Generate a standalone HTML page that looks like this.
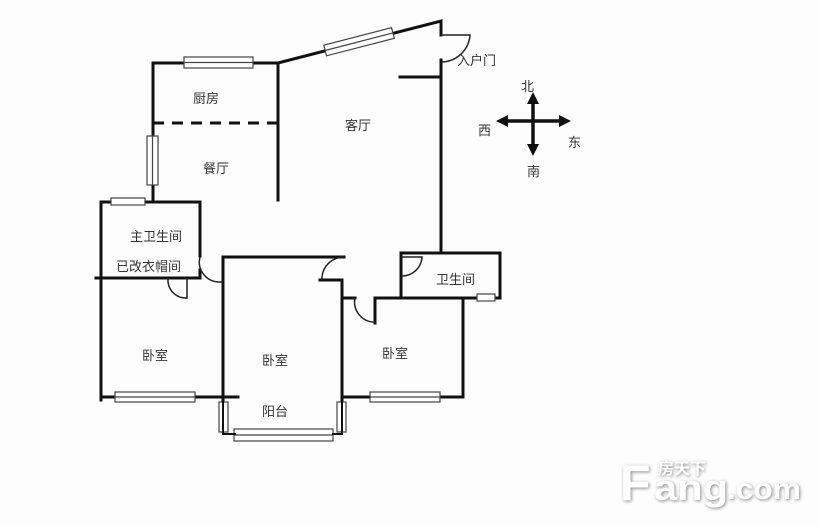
<!DOCTYPE html>
<html><head><meta charset="utf-8"><style>
html,body{margin:0;padding:0;background:#fdfdfd;}
svg{display:block}
text{font-family:"Liberation Sans","Noto Sans CJK SC",sans-serif;font-size:13px;fill:#333}
</style></head><body>
<svg width="819" height="525" viewBox="0 0 819 525" xmlns="http://www.w3.org/2000/svg">
<rect width="819" height="525" fill="#fdfdfd"/>
<g stroke="#111" stroke-width="3" fill="none" stroke-linecap="square">
<polyline points="153,136 153,63 278,63 441,21 441,35"/>
<line x1="278" y1="63" x2="278" y2="200"/>
<line x1="153" y1="185" x2="153" y2="202"/>
<line x1="441" y1="60" x2="441" y2="253"/>
<line x1="400" y1="77" x2="441" y2="77"/>
<polyline points="101,400 101,202 200,202 200,256"/>
<line x1="96" y1="278" x2="200" y2="278"/>
<line x1="200" y1="270" x2="200" y2="278"/>
<polyline points="223,400 223,257 344,257"/>
<line x1="320" y1="280" x2="342" y2="280"/>
<line x1="342" y1="280" x2="342" y2="402"/>
<line x1="101" y1="397" x2="238" y2="397"/>
<polyline points="342,298 355,298"/>
<polyline points="375,323 375,298 500,298"/>
<line x1="463" y1="298" x2="463" y2="397"/>
<line x1="342" y1="397" x2="463" y2="397"/>
<polyline points="401,263 401,253 500,253 500,298"/>
<line x1="401" y1="263" x2="401" y2="298"/>
</g>
<line x1="153" y1="123" x2="278" y2="123" stroke="#111" stroke-width="3" stroke-dasharray="11,8"/>
<g stroke="#222" stroke-width="1.5" fill="none">
<path d="M441,35 L470,35 A29,29 0 0 1 441,62"/>
<path d="M344,257 A22,22 0 0 0 322,277"/>
<path d="M322,277 L322,280"/>
<path d="M401,257 L422,257 A20,20 0 0 1 401,276"/>
<path d="M355,298 A20,20 0 0 0 375,322"/>
<path d="M200,257 A20,20 0 0 0 218,282 L222,282"/>
<path d="M168,278 L168,282 A18,18 0 0 0 187,298 L187,278"/>
</g>
<g stroke="#444" stroke-width="1.2" fill="#fff">
<rect x="184" y="57" width="69" height="11"/><line x1="184" y1="62.5" x2="253" y2="62.5"/>
<g transform="translate(325,50) rotate(-14.5)"><rect x="0" y="-5" width="70" height="11"/><line x1="0" y1="0.5" x2="70" y2="0.5"/></g>
<rect x="147" y="136" width="11" height="49"/><line x1="152.5" y1="136" x2="152.5" y2="185"/>
<rect x="111" y="198" width="34" height="7"/>
<rect x="115" y="392" width="80" height="10"/><line x1="115" y1="397" x2="195" y2="397"/>
<rect x="370" y="392" width="70" height="10"/><line x1="370" y1="397" x2="440" y2="397"/>
<rect x="219" y="402" width="9" height="30"/>
<rect x="337" y="402" width="9" height="30"/>
<rect x="234" y="429" width="99" height="12"/><line x1="234" y1="435" x2="333" y2="435"/>
<rect x="477" y="294" width="18" height="7"/>
</g>
<polyline points="223,400 223,434 236,434" stroke="#111" stroke-width="2" fill="none"/>
<polyline points="342,400 342,434 332,434" stroke="#111" stroke-width="2" fill="none"/>
<g stroke="#111" stroke-width="3.5"><line x1="533" y1="100" x2="533" y2="148"/><line x1="504" y1="121" x2="563" y2="121"/></g>
<g fill="#111">
<polygon points="533,92 527,104 539,104"/><polygon points="533,156 527,144 539,144"/>
<polygon points="496,121 508,115 508,127"/><polygon points="571,121 559,115 559,127"/>
</g>
<text x="193" y="103">厨房</text>
<text x="203" y="173">餐厅</text>
<text x="345" y="130">客厅</text>
<text x="130" y="241">主卫生间</text>
<text x="116" y="271">已改衣帽间</text>
<text x="142" y="360">卧室</text>
<text x="262" y="365">卧室</text>
<text x="262" y="416">阳台</text>
<text x="382" y="358">卧室</text>
<text x="436" y="284">卫生间</text>
<text x="457" y="65">入户门</text>
<text x="521" y="91">北</text>
<text x="478" y="135">西</text>
<text x="568" y="147">东</text>
<text x="527" y="176">南</text>
<g style="filter:drop-shadow(1px 1px 1.5px #888)">
<text x="620" y="500" style="font-size:50px;font-weight:bold;fill:#fff">F</text>
<text x="658" y="474" style="font-size:16px;font-weight:bold;fill:#fff">房天下</text>
<text x="654" y="500" style="font-size:36px;font-weight:bold;fill:#fff" textLength="74" lengthAdjust="spacingAndGlyphs">ang</text>
<text x="727" y="499" style="font-size:30px;font-weight:bold;fill:#fff" textLength="74" lengthAdjust="spacingAndGlyphs">.com</text>
</g>
</svg>
</body></html>
